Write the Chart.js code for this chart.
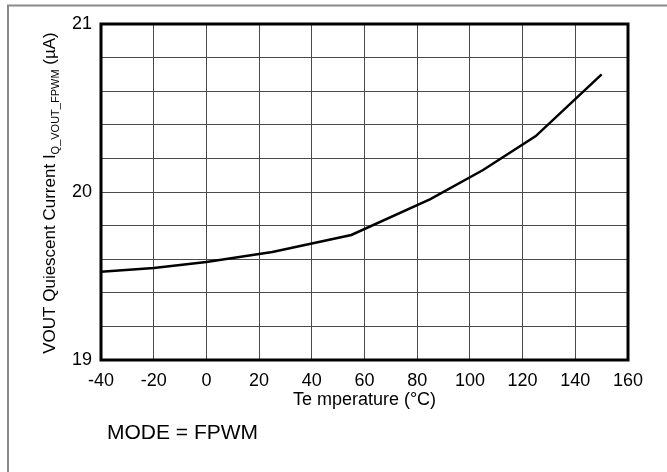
<!DOCTYPE html>
<html>
<head>
<meta charset="utf-8">
<script src="https://cdn.jsdelivr.net/npm/chart.js@4/dist/chart.umd.min.js"></script>
<style>
  html, body { margin: 0; padding: 0; background: #ffffff; }
  #wrap { width: 667px; height: 472px; position: relative; }
</style>
</head>
<body>
<div id="wrap"><canvas id="c" width="667" height="472"></canvas></div>
<script>
// Quiescent current on VOUT versus junction temperature, FPWM mode
const temperatures = [-40, -20, 0, 25, 55, 85, 105, 125, 150];      // °C
const quiescentCurrent = [19.526, 19.548, 19.583, 19.643, 19.744, 19.958, 20.131, 20.333, 20.70]; // µA

const xTicks = { min: -40, max: 160, step: 20 };
const yTicks = { min: 19, max: 21, step: 0.2 };
const yLabelled = [19, 20, 21];

const FONT = '"Liberation Sans", Arial, Helvetica, sans-serif';

const points = temperatures.map((t, i) => ({ x: t, y: quiescentCurrent[i] }));

// Page frame, plot border, axis titles and the mode note
const decorations = {
  id: 'decorations',
  beforeDraw(chart) {
    const ctx = chart.ctx;
    ctx.save();
    ctx.fillStyle = '#ffffff';
    ctx.fillRect(0, 0, chart.width, chart.height);
    ctx.strokeStyle = '#8a8a8a';
    ctx.lineWidth = 2;
    ctx.beginPath();
    ctx.moveTo(8, 472);
    ctx.lineTo(8, 5.5);
    ctx.lineTo(667, 5.5);
    ctx.stroke();
    ctx.restore();
  },
  afterDraw(chart) {
    const ctx = chart.ctx;
    const a = chart.chartArea;
    ctx.save();
    // heavy plot border
    ctx.strokeStyle = '#000000';
    ctx.lineWidth = 3;
    ctx.strokeRect(a.left, a.top, a.right - a.left, a.bottom - a.top);

    ctx.fillStyle = '#000000';
    // x axis title
    ctx.font = '18px ' + FONT;
    ctx.textAlign = 'center';
    ctx.textBaseline = 'middle';
    ctx.fillText('Te mperature (°C)', (a.left + a.right) / 2, 400);

    // mode note
    ctx.font = '21px ' + FONT;
    ctx.textAlign = 'left';
    ctx.fillText('MODE = FPWM', 107, 433);

    // y axis title with subscript, rotated
    const parts = [
      { text: 'VOUT Quiescent Current I', size: 17, shift: 0 },
      { text: 'Q_VOUT_FPWM', size: 11, shift: 4 },
      { text: ' (µA)', size: 17, shift: 0 }
    ];
    let total = 0;
    parts.forEach(p => {
      ctx.font = p.size + 'px ' + FONT;
      p.w = ctx.measureText(p.text).width;
      total += p.w;
    });
    ctx.translate(55, (a.top + a.bottom) / 2 + 1);
    ctx.rotate(-Math.PI / 2);
    ctx.textAlign = 'left';
    ctx.textBaseline = 'alphabetic';
    let x = -total / 2;
    parts.forEach(p => {
      ctx.font = p.size + 'px ' + FONT;
      ctx.fillText(p.text, x, p.shift);
      x += p.w;
    });
    ctx.restore();
  }
};

new Chart(document.getElementById('c'), {
  type: 'line',
  data: {
    datasets: [{
      data: points,
      borderColor: '#000000',
      borderWidth: 2.5,
      pointRadius: 0,
      tension: 0,
      fill: false
    }]
  },
  options: {
    responsive: false,
    animation: false,
    events: [],
    layout: { padding: { left: 0, right: 39, top: 24, bottom: 0 } },
    plugins: { legend: { display: false }, tooltip: { enabled: false } },
    scales: {
      x: {
        type: 'linear',
        min: xTicks.min,
        max: xTicks.max,
        afterFit(scale) { scale.height = 112; },
        ticks: {
          stepSize: xTicks.step,
          color: '#000000',
          font: { family: FONT, size: 18 },
          padding: 10,
          maxRotation: 0,
          autoSkip: false
        },
        grid: { color: '#4a4a4a', lineWidth: 1, drawTicks: false },
        border: { display: false }
      },
      y: {
        type: 'linear',
        min: yTicks.min,
        max: yTicks.max,
        afterFit(scale) { scale.width = 101; },
        ticks: {
          stepSize: yTicks.step,
          color: '#000000',
          font: { family: FONT, size: 18 },
          padding: 9,
          autoSkip: false,
          callback(v) {
            const r = Math.round(v);
            return (Math.abs(v - r) < 1e-6 && yLabelled.includes(r)) ? String(r) : '';
          }
        },
        grid: { color: '#4a4a4a', lineWidth: 1, drawTicks: false },
        border: { display: false }
      }
    }
  },
  plugins: [decorations]
});
</script>
</body>
</html>
